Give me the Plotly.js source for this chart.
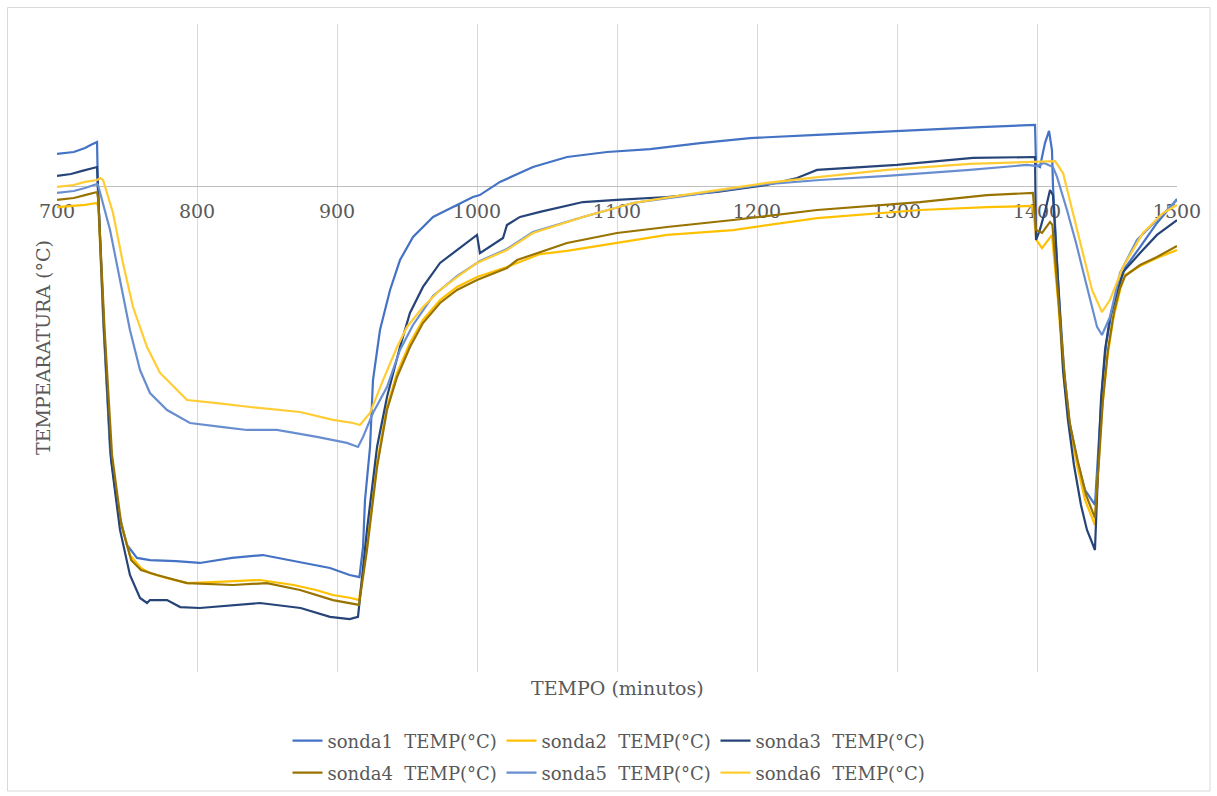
<!DOCTYPE html>
<html>
<head>
<meta charset="utf-8">
<script src="https://cdn.plot.ly/plotly-3.0.1.min.js"></script>
<style>
html,body{margin:0;padding:0;background:#fff;}
#chart{width:1217px;height:796px;}
</style>
</head>
<body>
<div id="chart"></div>
<script>
// ---- data ----
const seriesNames = ["sonda1  TEMP(°C)", "sonda2  TEMP(°C)", "sonda3  TEMP(°C)",
                     "sonda4  TEMP(°C)", "sonda5  TEMP(°C)", "sonda6  TEMP(°C)"];
const xTicks = [700, 800, 900, 1000, 1100, 1200, 1300, 1400, 1500];

const s1x = [700,705,712,716,720,724,728.6,729.2,733,737.9,743.6,750,757.1,766.4,785,802,825,847,874,895,909,916,918.6,920,923.6,925.7,930.7,937.9,945,954.3,968.6,982.9,997.1,1002,1016.4,1040,1064.3,1092.9,1123.6,1159.3,1195,1242.9,1300,1359.3,1398.6,1399.3,1402.1,1405.7,1408.6,1410.7,1411.4,1415,1419.3,1423,1428.6,1434.3,1441.4,1443.6,1446.4,1449.3,1453.6,1459.3,1462.9,1473.6,1485.7,1500];
const s1y = [1.98,2.04,2.10,2.22,2.35,2.53,2.72,0,-8.27,-16.30,-20.0,-22.16,-22.96,-23.09,-23.15,-23.27,-22.96,-22.78,-23.21,-23.58,-24.01,-24.14,-22.28,-19.38,-16.11,-11.98,-8.89,-6.42,-4.57,-3.15,-1.91,-1.30,-0.68,-0.56,0.25,1.17,1.79,2.10,2.28,2.65,2.96,3.15,3.40,3.64,3.77,1.30,1.17,2.65,3.40,2.22,0.06,-5.80,-11.36,-14.44,-16.91,-18.77,-19.69,-16.30,-12.59,-9.81,-7.65,-5.99,-5.06,-3.77,-2.28,-0.80];

const s2x = [700,712,720,728.6,729.5,733.6,738.6,745,752,760,766,778,793,815,845,869,885,897,910,915.7,921.4,928.6,935.7,942.9,952.1,961.4,973.6,985.7,1000,1021.4,1045,1064.3,1100,1135.7,1182.9,1242.9,1316.4,1364.3,1397.1,1399.5,1403.6,1410.7,1415,1419.3,1423,1428.6,1434.3,1441.4,1443.6,1446.4,1450,1454.3,1459.3,1462.9,1473.6,1485.7,1500];
const s2y = [-1.30,-1.23,-1.17,-1.05,-1.30,-8.89,-16.60,-20.60,-22.78,-23.58,-23.89,-24.20,-24.51,-24.44,-24.32,-24.63,-24.94,-25.25,-25.43,-25.56,-22.28,-17.10,-13.64,-11.54,-9.69,-8.27,-7.04,-6.23,-5.62,-5.00,-4.20,-4.01,-3.52,-3.02,-2.72,-1.98,-1.48,-1.30,-1.23,-3.33,-3.83,-3.02,-7.04,-11.98,-14.75,-17.22,-19.38,-20.93,-17.53,-13.83,-10.74,-8.27,-6.42,-5.49,-4.94,-4.44,-3.95];

const s3x = [700,710,718,728.6,729.3,733.6,738.6,745,752.1,759.3,764.3,766.4,778.6,788,802,845,874,895,909,915,921.4,928.6,935.7,945,952.1,961.4,973.6,985.7,1000,1002.1,1011.4,1018.6,1021.4,1030.7,1045,1075.7,1100,1135.7,1171.4,1207.1,1228.6,1242.9,1300,1354.3,1398.6,1399.3,1402,1406,1409.3,1411.4,1415,1418.6,1422.1,1426.4,1431.4,1435.7,1438.6,1441.4,1443.6,1445.7,1448.6,1452.1,1457.1,1461.4,1473.6,1485.7,1500];
const s3y = [0.62,0.74,0.93,1.17,-0.25,-8.89,-16.91,-21.23,-24.01,-25.43,-25.74,-25.56,-25.56,-25.99,-26.05,-25.74,-26.05,-26.60,-26.73,-26.60,-21.23,-16.11,-13.02,-9.94,-7.84,-6.23,-4.75,-3.95,-3.02,-4.14,-3.64,-3.21,-2.41,-1.91,-1.60,-0.99,-0.86,-0.68,-0.37,0.06,0.49,0.99,1.30,1.73,1.79,-3.33,-2.72,-1.48,-0.25,-0.56,-5.80,-11.36,-14.44,-17.22,-19.69,-21.23,-21.85,-22.47,-17.53,-13.21,-10.12,-8.15,-6.60,-5.31,-4.14,-3.02,-2.10];

const s4x = [700,712,720,728.6,729.5,734,739.3,746,753,760,771.4,792.9,825.7,850,873.6,897.1,915.7,921.4,928.6,935.7,942.9,952.1,961.4,973.6,985.7,1000,1021.4,1028.6,1064.3,1100,1135.7,1182.9,1242.9,1316.4,1364.3,1397.1,1399.3,1403.6,1409.3,1411,1415,1420,1423.6,1429.3,1435,1441.4,1444.3,1447.1,1450.7,1455,1459.3,1462.9,1473.6,1485.7,1500];
const s4y = [-0.86,-0.74,-0.56,-0.37,-0.86,-8.89,-16.60,-20.93,-23.09,-23.70,-24.01,-24.51,-24.63,-24.51,-24.94,-25.56,-25.86,-22.47,-17.35,-13.83,-11.79,-9.94,-8.46,-7.22,-6.42,-5.80,-5.06,-4.57,-3.52,-2.90,-2.53,-2.10,-1.48,-0.99,-0.56,-0.43,-2.72,-2.90,-2.22,-2.40,-6.73,-11.98,-14.75,-17.04,-19.07,-20.49,-16.91,-13.21,-10.12,-7.78,-6.30,-5.56,-4.88,-4.38,-3.70];

const s5x = [700,712,720,728.6,729.3,737.9,745,752.1,759.3,766.4,778.6,795,818.6,835.7,857.1,885.7,907.1,915,918.6,925.7,935.7,945,954.3,968.6,985.7,1002.1,1021.4,1040,1075.7,1111.4,1147.1,1182.9,1207.1,1245,1292.9,1352.1,1392.9,1400,1405,1411.4,1414.3,1421.4,1427.9,1435,1442.9,1446.4,1452.1,1459.3,1471.4,1485.7,1500];
const s5y = [-0.43,-0.31,-0.12,0.12,0.06,-2.72,-5.80,-8.89,-11.36,-12.78,-13.83,-14.63,-14.88,-15.06,-15.06,-15.49,-15.86,-16.11,-15.49,-14.01,-12.41,-10.12,-8.58,-6.79,-5.56,-4.63,-3.89,-2.84,-1.91,-1.05,-0.62,-0.19,0.12,0.37,0.62,0.99,1.30,1.23,1.42,1.17,0.56,-1.48,-3.52,-5.99,-8.70,-9.20,-8.09,-5.37,-3.33,-2.10,-0.86];

const s6x = [700,712,720,728.6,731,732.9,740,747.1,754.3,764.3,773.6,785.7,792.9,814.3,837.9,873.6,897.1,911.4,916.4,923.6,932.9,942.9,950,961.4,973.6,985.7,1000,1021.4,1040,1075.7,1111.4,1147.1,1182.9,1207.1,1245,1292.9,1352.1,1392.9,1412.9,1418.6,1425,1432.1,1439.3,1446.4,1452.1,1461.4,1475.7,1490,1500];
const s6y = [-0.06,0.06,0.25,0.37,0.49,0.37,-1.67,-4.75,-7.47,-9.94,-11.54,-12.59,-13.21,-13.40,-13.64,-13.95,-14.44,-14.63,-14.75,-14.01,-11.98,-9.94,-8.70,-7.47,-6.42,-5.62,-4.75,-3.95,-2.90,-1.91,-1.05,-0.56,-0.12,0.19,0.56,0.99,1.36,1.48,1.54,0.80,-1.48,-3.95,-6.42,-7.78,-7.04,-5.00,-2.90,-1.67,-1.17];

const colors = ["#4472C4", "#FFC000", "#264478", "#997300", "#698ED0", "#FFCD33"];

// ---- chart ----
const FONT = "DejaVu Serif";
const FS = 19;
const TXT = "#595959";
const xs = [s1x, s2x, s3x, s4x, s5x, s6x];
const ys = [s1y, s2y, s3y, s4y, s5y, s6y];
const traces = xs.map((x, i) => ({
  type: "scatter", mode: "lines", x: x, y: ys[i], name: seriesNames[i],
  line: {color: colors[i], width: 2.2},
  legend: i < 3 ? "legend" : "legend2",
  hoverinfo: "skip"
}));

const legendCommon = {
  orientation: "h", xref: "container", yref: "container",
  x: 0.5, xanchor: "center", yanchor: "middle",
  font: {family: FONT, size: 18, color: TXT},
  bgcolor: "rgba(0,0,0,0)", entrywidth: 169, entrywidthmode: "pixels",
  tracegroupgap: 0, itemclick: false
};

const layout = {
  width: 1217, height: 796,
  font: {family: FONT, size: FS, color: TXT},
  margin: {l: 57, r: 40, t: 24, b: 124},
  paper_bgcolor: "#ffffff", plot_bgcolor: "#ffffff",
  showlegend: true,
  legend: Object.assign({}, legendCommon, {y: 1 - 741/796}),
  legend2: Object.assign({}, legendCommon, {y: 1 - 773/796}),
  xaxis: {
    range: [700, 1500], tickvals: xTicks, ticktext: xTicks.map(String),
    showgrid: true, gridcolor: "#d9d9d9", gridwidth: 1,
    zeroline: false, showline: false, ticks: "",
    anchor: "free", position: 0.75, layer: "below traces",
    tickfont: {family: FONT, size: FS, color: TXT},
    ticklabelstandoff: 12
  },
  yaxis: {
    range: [-30, 10], showticklabels: false, showgrid: false, ticks: "",
    zeroline: true, zerolinecolor: "#bfbfbf", zerolinewidth: 1, showline: false
  },
  annotations: [
    {text: "TEMPO (minutos)", xref: "paper", yref: "paper", x: 0.5, y: (672-688)/648,
     xanchor: "center", yanchor: "middle", showarrow: false,
     font: {family: FONT, size: FS, color: TXT}},
    {text: "TEMPEARATURA (°C)", xref: "paper", yref: "paper", x: (43-57)/1120, y: 0.5,
     xanchor: "center", yanchor: "middle", showarrow: false, textangle: -90,
     font: {family: FONT, size: FS, color: TXT}}
  ],
  shapes: [
    {type: "rect", xref: "paper", yref: "paper",
     x0: (7.5-57)/1120, x1: (1210-57)/1120, y0: (672-791)/648, y1: (672-7.5)/648,
     line: {color: "#d9d9d9", width: 1}, fillcolor: "rgba(0,0,0,0)", layer: "below"}
  ]
};

Plotly.newPlot("chart", traces, layout, {staticPlot: true, displayModeBar: false});
</script>
</body>
</html>
